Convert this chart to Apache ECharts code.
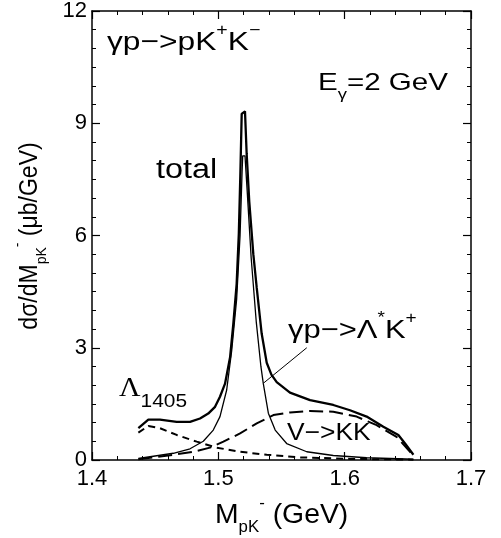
<!DOCTYPE html>
<html>
<head>
<meta charset="utf-8">
<script src="https://cdn.jsdelivr.net/npm/echarts@6/dist/echarts.min.js"></script>
<style>
html,body{margin:0;padding:0;background:#fff;}
#c{width:501px;height:538px;}
</style>
</head>
<body>
<div id="c"></div>
<script>
// ---- data (x: M_pK- in GeV, y: dσ/dM in μb/GeV) ----
var xTicks = [1.4, 1.5, 1.6, 1.7];
var yTicks = [0, 3, 6, 9, 12];

var totalCurve = [
  [1.4367,0.85],[1.4446,1.08],[1.4538,1.08],[1.4670,1.02],[1.4776,1.02],[1.4855,1.11],
  [1.4920,1.24],[1.4974,1.42],[1.5013,1.69],[1.5053,2.04],[1.5093,2.75],[1.5119,3.65],
  [1.5145,4.71],[1.5162,6.04],[1.5174,7.6],[1.5185,9.25],[1.5211,9.32],[1.5224,8.2],
  [1.5245,6.9],[1.5277,5.5],[1.5304,4.6],[1.5343,3.38],[1.5383,2.6],[1.5420,2.28],
  [1.5462,2.08],[1.5567,1.80],[1.5726,1.60],[1.5910,1.47],[1.6042,1.33],[1.6174,1.16],
  [1.6306,0.89],[1.6425,0.67],[1.6478,0.44],[1.6544,0.14]
];
var lambdaStarCurve = [
  [1.4367,0.04],[1.4644,0.18],[1.4776,0.30],[1.4881,0.50],[1.4960,0.80],[1.5013,1.16],
  [1.5066,1.87],[1.5106,2.93],[1.5145,4.30],[1.5172,6.0],[1.5188,7.7],[1.5193,8.13],
  [1.5211,8.13],[1.5230,7.1],[1.5260,5.4],[1.5300,3.7],[1.5337,2.5],[1.5356,2.04],
  [1.5396,1.25],[1.5450,0.80],[1.5541,0.44],[1.5700,0.22],[1.5910,0.12],[1.6174,0.06],
  [1.6544,0.02]
];
var lambda1405Curve = [
  [1.4367,0.73],[1.4446,0.91],[1.4538,0.85],[1.4670,0.67],[1.4829,0.49],[1.4987,0.33],
  [1.5172,0.22],[1.5383,0.14],[1.5647,0.07],[1.6042,0.03],[1.6544,0.01]
];
var vkkCurve = [
  [1.4367,0.02],[1.4644,0.14],[1.4802,0.22],[1.4934,0.33],[1.5040,0.49],[1.5172,0.71],
  [1.5304,0.98],[1.5436,1.20],[1.5567,1.27],[1.5726,1.31],[1.5910,1.29],[1.6095,1.16],
  [1.6253,0.93],[1.6411,0.62],[1.6544,0.12]
];
var arrowTail = [1.570, 3.00];
var arrowHead = [1.5356, 2.05];

var FONT = '"Liberation Sans", Arial, Helvetica, sans-serif';
var SERIF = '"Liberation Serif", "DejaVu Serif", serif';

var chart = echarts.init(document.getElementById('c'), null, {renderer:'canvas'});

function axisCommon(showLabels, isX) {
  return {
    axisLine: {show:true, onZero:false, lineStyle:{color:'#000', width:1.5}},
    axisTick: {show:true, inside:true, length:8, lineStyle:{color:'#000', width:1.2}},
    minorTick: {show:true, splitNumber: isX ? 5 : 6, length:4, lineStyle:{color:'#000', width:1}},
    splitLine: {show:false},
    minorSplitLine: {show:false},
    axisLabel: {show:showLabels, color:'#000', fontSize:22, fontFamily:FONT,
      margin: isX ? 8 : 5,
      formatter: isX ? function(v){ return (Math.round(v*10)/10).toFixed(1); }
                     : function(v){ return String(Math.round(v)); }}
  };
}

var xMain = Object.assign({type:'value', position:'bottom', min:xTicks[0], max:xTicks[xTicks.length-1], interval:0.1}, axisCommon(true, true));
var xTop  = Object.assign({type:'value', position:'top', min:xTicks[0], max:xTicks[xTicks.length-1], interval:0.1}, axisCommon(false, true));
var yMain = Object.assign({type:'value', position:'left', min:yTicks[0], max:yTicks[yTicks.length-1], interval:3}, axisCommon(true, false));
var yRight= Object.assign({type:'value', position:'right', min:yTicks[0], max:yTicks[yTicks.length-1], interval:3}, axisCommon(false, false));

function rich(size, subSize, supLH, subLH, lh) {
  return {
    m:   {fontSize:size, fontFamily:FONT, color:'#000', lineHeight:lh, verticalAlign:'middle'},
    sup: {fontSize:subSize, fontFamily:FONT, color:'#000', lineHeight:supLH, verticalAlign:'top'},
    sub: {fontSize:subSize, fontFamily:FONT, color:'#000', lineHeight:subLH, verticalAlign:'bottom'}
  };
}
function label(x, y, text, r, sx) {
  return {type:'text', x:x, y:y, scaleX:sx || 1, scaleY:1, z:10,
    style:{x:0, y:0, text:text, rich:r, align:'left', verticalAlign:'top'}};
}

var option = {
  animation:false,
  backgroundColor:'#fff',
  grid:{left:92, right:30, top:10, bottom:78, containLabel:false},
  xAxis:[xMain, xTop],
  yAxis:[yMain, yRight],
  series:[
    {type:'line', name:'total', data:totalCurve, showSymbol:false, symbol:'none',
     lineStyle:{color:'#000', width:2.3}, z:5},
    {type:'line', name:'Lambda* K+', data:lambdaStarCurve, showSymbol:false, symbol:'none',
     lineStyle:{color:'#000', width:1.3}, z:4,
     markLine:{silent:true, symbol:['none','arrow'], symbolSize:[0,9], label:{show:false},
       lineStyle:{color:'#000', width:1, type:'solid'},
       data:[[{coord:arrowTail},{coord:arrowHead}]]}},
    {type:'line', name:'Lambda1405', data:lambda1405Curve, showSymbol:false, symbol:'none',
     lineStyle:{color:'#000', width:2, type:[7,5]}, z:3},
    {type:'line', name:'V->KK', data:vkkCurve, showSymbol:false, symbol:'none',
     lineStyle:{color:'#000', width:2, type:[14,6]}, z:3}
  ],
  graphic:[
    label(107, 23, '{m|γp−>pK}{sup|+}{m|K}{sup|−}', rich(26,16,22,22,40), 1.22),
    label(318, 64, '{m|E}{sub|γ}{m|=2 GeV}', rich(24,15,22,24,38), 1.23),
    label(156, 152, '{m|total}', rich(27,15,22,22,38), 1.2),
    label(288, 311, '{m|γp−>Λ}{sup|*}{m|K}{sup|+}', rich(26,16,22,22,40), 1.19),
    label(119, 375, '{g|Λ}{sub|1405}', {
      g:{fontSize:27, fontFamily:SERIF, color:'#000', lineHeight:36, verticalAlign:'top'},
      sub:{fontSize:19, fontFamily:FONT, color:'#000', lineHeight:22, verticalAlign:'bottom'}}, 1.1),
    label(287, 417, '{m|V−>KK}', rich(24,15,22,22,32), 1.1),
    label(215, 496, '{m|M}{sub|pK}{sup|-}{m| (GeV)}', rich(27,16,26,24,40), 1.05),
    {type:'text', x:30, y:236, rotation:Math.PI/2, scaleX:1, scaleY:1.1, z:10,
     style:{text:'{m|dσ/dM}{sub|pK}{sup|-}{m| (μb/GeV)}', rich:rich(23,14,24,22,36), align:'center', verticalAlign:'middle'}}
  ]
};
chart.setOption(option);
</script>
</body>
</html>
